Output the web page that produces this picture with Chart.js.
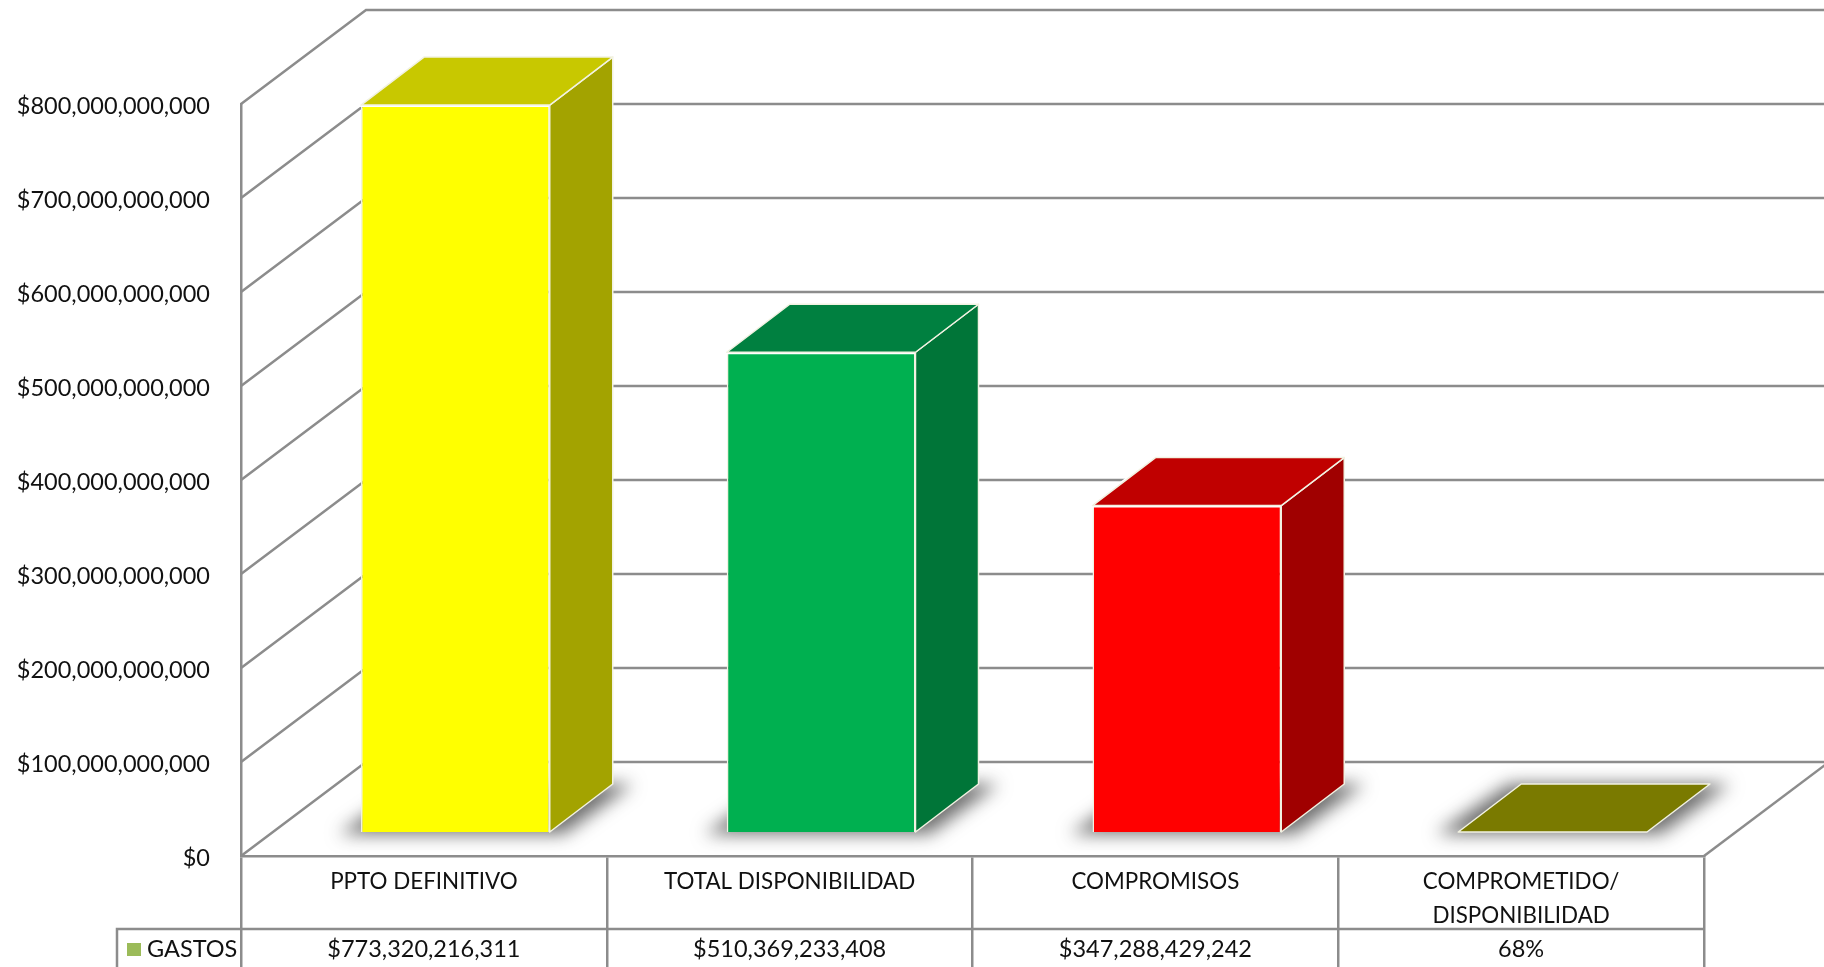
<!DOCTYPE html>
<html>
<head>
<meta charset="utf-8">
<title>Gastos</title>
<script src="https://cdn.jsdelivr.net/npm/chart.js@4"></script>
<style>
  html, body { margin: 0; padding: 0; background: #fff; overflow: hidden; }
  canvas { display: block; }
</style>
</head>
<body>
<canvas id="gastosChart" width="1824" height="967"></canvas>
<script>
// Data for the chart
const categories = ['PPTO DEFINITIVO', 'TOTAL DISPONIBILIDAD', 'COMPROMISOS', ['COMPROMETIDO/', 'DISPONIBILIDAD']];
const gastos = [773320216311, 510369233408, 347288429242, 0.68];
const gastosLabels = ['$773,320,216,311', '$510,369,233,408', '$347,288,429,242', '68%'];
const seriesName = 'GASTOS';
const yTickStep = 100000000000;
const yMax = 800000000000;

// Colours of the three visible faces of each bar
const frontColors = ['#ffff00', '#00b050', '#ff0000', '#808000'];
const topColors = ['#c8c800', '#008040', '#c00000', '#7a7a00'];
const sideColors = ['#a3a300', '#007538', '#a00000', '#6a6a00'];

const lineGrey = '#8c8c8c';
const fontName = 'Lato, "Open Sans", sans-serif';
const fontSize = 23.5;

// Fake 3D: depth of the box and where the bars stand on its floor
const wallDepth = { x: 125, y: 94 };
const barDepth = { x: 63, y: 48 };
const barShift = { x: 31.5, y: 24 };

function poly(ctx, pts) {
    ctx.beginPath();
    pts.forEach((p, i) => i ? ctx.lineTo(p[0], p[1]) : ctx.moveTo(p[0], p[1]));
    ctx.closePath();
}

// Floor, walls and gridlines of the box
const wallsPlugin = {
    id: 'walls',
    beforeDatasetsDraw(chart) {
        const { ctx, chartArea: area, scales } = chart;
        ctx.save();
        ctx.strokeStyle = lineGrey;
        ctx.lineWidth = 2.5;
        scales.y.ticks.forEach(tick => {
            const y = scales.y.getPixelForValue(tick.value);
            ctx.beginPath();
            ctx.moveTo(area.left, y);
            ctx.lineTo(area.left + wallDepth.x, y - wallDepth.y);
            ctx.lineTo(chart.width, y - wallDepth.y);
            ctx.stroke();
        });
        // right edge of the floor
        ctx.beginPath();
        ctx.moveTo(area.right, area.bottom);
        ctx.lineTo(area.right + wallDepth.x, area.bottom - wallDepth.y);
        ctx.stroke();
        ctx.restore();

        // soft shadow under every bar, only the blur of an off-canvas shape is seen
        const off = 3000;
        chart.getDatasetMeta(0).data.forEach(bar => {
            const l = bar.x - bar.width / 2 + barShift.x;
            const r = bar.x + bar.width / 2 + barShift.x;
            const b = bar.base - barShift.y;
            ctx.save();
            ctx.shadowColor = 'rgba(95,95,95,0.9)';
            ctx.shadowBlur = 17;
            ctx.shadowOffsetX = off;
            ctx.fillStyle = '#000';
            poly(ctx, [
                [l - 22 - off, b + 2],
                [r + 14 - off, b + 2],
                [r + barDepth.x + 20 - off, b - barDepth.y],
                [l + barDepth.x - 12 - off, b - barDepth.y]
            ]);
            ctx.fill();
            ctx.restore();
        });
    },
    // bars stand further back than the axis plane
    beforeDatasetDraw(chart) {
        chart.ctx.save();
        chart.ctx.translate(barShift.x, -barShift.y);
    },
    afterDatasetDraw(chart) {
        chart.ctx.restore();
    },
    afterDatasetsDraw(chart) {
        const { ctx } = chart;
        chart.getDatasetMeta(0).data.forEach((bar, i) => {
            const l = bar.x - bar.width / 2 + barShift.x;
            const r = bar.x + bar.width / 2 + barShift.x;
            const t = bar.y - barShift.y;
            const b = bar.base - barShift.y;
            const top = [[l, t], [r, t], [r + barDepth.x, t - barDepth.y], [l + barDepth.x, t - barDepth.y]];
            const side = [[r, t], [r + barDepth.x, t - barDepth.y], [r + barDepth.x, b - barDepth.y], [r, b]];
            ctx.save();
            ctx.lineJoin = 'round';
            // white halo that interrupts the gridlines
            if (b - t > 1) {
                ctx.strokeStyle = '#fff';
                ctx.lineWidth = 4;
                poly(ctx, top);
                ctx.stroke();
            }
            ctx.strokeStyle = '#f2f2e2';
            ctx.lineWidth = 1.5;
            if (b - t > 1) {
                poly(ctx, side);
                ctx.fillStyle = sideColors[i];
                ctx.fill();
                ctx.stroke();
            }
            poly(ctx, top);
            ctx.fillStyle = topColors[i];
            ctx.fill();
            ctx.stroke();
            ctx.restore();
        });
    }
};

// Bottom row of the data table with its legend key
const tablePlugin = {
    id: 'table',
    afterDraw(chart) {
        const { ctx, chartArea: area, scales } = chart;
        const rowY = 929, tableLeft = 117;
        ctx.save();
        ctx.strokeStyle = lineGrey;
        ctx.lineWidth = 2.5;
        ctx.beginPath();
        ctx.moveTo(tableLeft, chart.height);
        ctx.lineTo(tableLeft, rowY);
        ctx.lineTo(area.right, rowY);
        ctx.stroke();

        ctx.fillStyle = '#9bbb59';
        ctx.fillRect(127, 943, 14, 13);

        ctx.font = fontSize + 'px ' + fontName;
        ctx.fillStyle = '#111';
        ctx.textBaseline = 'middle';
        ctx.textAlign = 'left';
        ctx.fillText(seriesName, 147, 949);
        ctx.textAlign = 'center';
        gastosLabels.forEach((label, i) => {
            ctx.fillText(label, scales.x.getPixelForValue(i), 949);
        });
        ctx.restore();
    }
};

const config = {
    type: 'bar',
    data: {
        labels: categories,
        datasets: [{
            label: seriesName,
            data: gastos,
            backgroundColor: frontColors,
            borderColor: '#f2f2e2',
            borderWidth: 1.5,
            categoryPercentage: 1,
            barPercentage: 0.516,
            clip: false
        }]
    },
    options: {
        responsive: false,
        animation: false,
        devicePixelRatio: 1,
        layout: { padding: { top: 104, right: 120, left: 0, bottom: 0 } },
        plugins: {
            legend: { display: false },
            title: { display: false },
            tooltip: { enabled: false }
        },
        scales: {
            x: {
                afterFit(axis) { axis.height = 111; },
                border: { color: lineGrey, width: 2.5 },
                grid: { drawOnChartArea: false, tickLength: 111, color: lineGrey, lineWidth: 2.5 },
                ticks: {
                    autoSkip: false,
                    maxRotation: 0,
                    padding: -102,
                    color: '#111',
                    font: { family: fontName, size: 22.4, lineHeight: 1.5 }
                }
            },
            y: {
                min: 0,
                max: yMax,
                afterFit(axis) { axis.width = 241; },
                border: { color: lineGrey, width: 2.5 },
                grid: { display: false, drawTicks: false },
                ticks: {
                    stepSize: yTickStep,
                    padding: 31,
                    labelOffset: 2,
                    color: '#111',
                    font: { family: fontName, size: fontSize },
                    callback: v => '$' + v.toLocaleString('en-US')
                }
            }
        }
    },
    plugins: [wallsPlugin, tablePlugin]
};

// Render the chart
const ctx = document.getElementById('gastosChart').getContext('2d');
const gastosChart = new Chart(ctx, config);
</script>
</body>
</html>
